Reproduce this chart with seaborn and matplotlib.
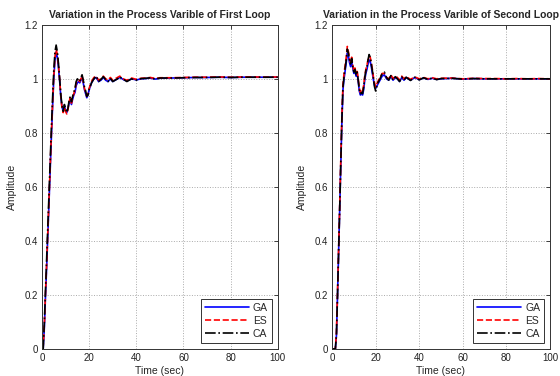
import numpy as np
import pandas as pd
import matplotlib
matplotlib.use("Agg")
import matplotlib.pyplot as plt
import seaborn as sns

# time grid (sec)
time = [0, 0.5, 1, 1.5, 2, 2.5, 3, 3.5, 4, 4.5, 5, 5.5, 6, 6.5, 7, 7.5, 8, 8.5, 9, 9.5,
        10, 10.5, 11, 11.5, 12, 12.5, 13, 13.5, 14, 14.5, 15, 15.5, 16, 16.5, 17, 17.5,
        18, 18.5, 19, 19.5, 20,
        21, 22, 23, 24, 25, 26, 27, 28, 29, 30, 31, 32, 33, 34, 35, 36,
        38, 40, 42, 44, 46, 48, 50,
        55, 60, 65, 70, 75, 80, 85, 90, 95, 100]

# first loop
loop1_ga = [0, 0.0, 0.08, 0.2, 0.31, 0.43, 0.55, 0.67, 0.79, 0.9, 1.0, 1.07, 1.10, 1.08, 1.04, 0.99,
            0.93, 0.895, 0.88, 0.9, 0.885, 0.875, 0.89, 0.91, 0.92, 0.905, 0.925, 0.94, 0.95, 0.975,
            0.985, 0.99, 0.985, 0.995, 1.005, 0.985, 0.96, 0.945, 0.93, 0.94, 0.96,
            0.985, 1.0, 1.005, 0.99, 0.995, 1.005, 0.995, 0.99, 1.0, 0.99, 0.995, 1.0, 1.005, 1.0, 0.995, 0.992,
            1.0, 0.996, 1.0, 1.001, 1.003, 0.999, 1.002,
            1.003, 1.004, 1.005, 1.005, 1.006, 1.005, 1.006, 1.006, 1.006, 1.006]
loop1_es = [0, 0.01, 0.09, 0.21, 0.32, 0.44, 0.56, 0.68, 0.80, 0.91, 1.01, 1.08, 1.11, 1.09, 1.05, 0.995,
            0.935, 0.89, 0.875, 0.895, 0.88, 0.87, 0.885, 0.915, 0.93, 0.91, 0.93, 0.945, 0.96, 0.985,
            0.995, 0.995, 0.99, 1.0, 1.01, 0.99, 0.965, 0.95, 0.935, 0.945, 0.965,
            0.99, 1.005, 1.01, 0.995, 1.0, 1.01, 1.0, 0.995, 1.005, 0.995, 1.0, 1.005, 1.01, 1.002, 0.998, 0.995,
            1.003, 0.998, 1.002, 1.003, 1.005, 1.001, 1.004,
            1.004, 1.005, 1.006, 1.006, 1.007, 1.006, 1.007, 1.007, 1.006, 1.007]
loop1_ca = [0, 0.0, 0.1, 0.22, 0.34, 0.46, 0.58, 0.70, 0.82, 0.93, 1.03, 1.1, 1.125, 1.1, 1.055, 1.0,
            0.94, 0.9, 0.88, 0.905, 0.89, 0.875, 0.89, 0.92, 0.935, 0.915, 0.935, 0.95, 0.965, 0.99,
            1.0, 0.995, 0.99, 1.005, 1.015, 0.995, 0.97, 0.955, 0.935, 0.94, 0.96,
            0.985, 1.0, 1.01, 0.99, 0.998, 1.008, 0.998, 0.99, 1.002, 0.99, 0.995, 1.0, 1.008, 1.0, 0.996, 0.99,
            1.0, 0.995, 1.001, 1.002, 1.004, 0.999, 1.003,
            1.003, 1.004, 1.005, 1.005, 1.006, 1.005, 1.006, 1.006, 1.006, 1.006]

# second loop
loop2_ga = [0, 0, 0, 0, 0.05, 0.2, 0.36, 0.52, 0.68, 0.84, 0.96, 1.0, 1.03, 1.06, 1.095, 1.085,
            1.06, 1.045, 1.065, 1.04, 1.02, 1.03, 1.01, 1.02, 0.99, 0.955, 0.94, 0.945, 0.94, 0.96,
            0.995, 1.02, 1.035, 1.055, 1.07, 1.065, 1.045, 1.02, 0.995, 0.975, 0.965,
            0.98, 0.995, 1.01, 1.015, 1.0, 0.995, 1.01, 0.995, 1.005, 1.0, 0.99, 1.005, 0.995, 1.005, 1.0, 0.995,
            1.005, 0.997, 1.003, 0.998, 1.002, 0.998, 1.0,
            1.002, 0.999, 1.001, 1.0, 1.0, 1.0, 1.0, 1.0, 1.0, 1.0]
loop2_es = [0, 0, 0, 0.0, 0.06, 0.21, 0.37, 0.53, 0.70, 0.86, 0.98, 1.02, 1.05, 1.08, 1.12, 1.10,
            1.075, 1.06, 1.08, 1.05, 1.03, 1.04, 1.02, 1.03, 1.0, 0.965, 0.95, 0.96, 0.955, 0.975,
            1.01, 1.035, 1.05, 1.07, 1.085, 1.08, 1.06, 1.035, 1.005, 0.985, 0.97,
            0.99, 1.005, 1.02, 1.02, 1.005, 1.0, 1.015, 1.0, 1.01, 1.005, 0.995, 1.01, 1.0, 1.008, 1.003, 0.998,
            1.007, 1.0, 1.005, 1.0, 1.004, 1.0, 1.002,
            1.003, 1.0, 1.002, 1.001, 1.001, 1.0, 1.001, 1.0, 1.001, 1.0]
loop2_ca = [0, 0, 0, 0.0, 0.05, 0.2, 0.36, 0.52, 0.69, 0.85, 0.97, 1.01, 1.04, 1.07, 1.11, 1.095,
            1.07, 1.055, 1.075, 1.045, 1.025, 1.035, 1.015, 1.025, 0.995, 0.96, 0.945, 0.95, 0.945, 0.97,
            1.005, 1.03, 1.045, 1.07, 1.09, 1.08, 1.055, 1.03, 1.0, 0.97, 0.955,
            0.985, 1.0, 1.02, 1.025, 1.005, 0.995, 1.012, 0.995, 1.008, 1.0, 0.99, 1.007, 0.995, 1.006, 1.0, 0.994,
            1.006, 0.996, 1.004, 0.998, 1.003, 0.997, 1.001,
            1.002, 0.999, 1.001, 1.0, 1.0, 1.0, 1.0, 1.0, 1.0, 1.0]

titles = ["Variation in the Process Varible of First Loop",
          "Variation in the Process Varible of Second Loop"]
methods = ["GA", "ES", "CA"]
xticks = [0, 20, 40, 60, 80, 100]
yticks = [0, 0.2, 0.4, 0.6, 0.8, 1, 1.2]
ytick_labels = ["0", "0.2", "0.4", "0.6", "0.8", "1", "1.2"]

sns.set_style("white")
plt.rcParams['font.family'] = ['Liberation Sans', 'DejaVu Sans']
plt.rcParams['font.size'] = 7

styles = {"GA": ("#0000ff", "-"), "ES": ("#ff0000", "--"), "CA": ("#000000", "-.")}

fig = plt.figure(figsize=(5.6, 3.76), dpi=100)
ax1 = fig.add_axes([0.075, 0.072, 0.421, 0.862])
ax2 = fig.add_axes([0.593, 0.072, 0.389, 0.862])

for ax, title, series in [(ax1, titles[0], [loop1_ga, loop1_es, loop1_ca]),
                          (ax2, titles[1], [loop2_ga, loop2_es, loop2_ca])]:
    for name, vals in zip(methods, series):
        c, ls = styles[name]
        sns.lineplot(x=time, y=vals, ax=ax, color=c, linestyle=ls, linewidth=1.2, label=name)
    ax.set_xlim(0, 100)
    ax.set_ylim(0, 1.2)
    ax.set_xticks(xticks)
    ax.set_xticklabels([str(x) for x in xticks])
    ax.set_yticks(yticks)
    ax.set_yticklabels(ytick_labels)
    ax.grid(True, linestyle=':', color='#aaaaaa', linewidth=0.7)
    ax.tick_params(direction='in', top=True, right=True, length=3, width=0.6,
                   labelsize=7, colors='#222222', pad=3)
    for sp in ax.spines.values():
        sp.set_color('#333333')
        sp.set_linewidth(0.7)
    ax.set_title(title, fontsize=7.5, fontweight='bold', pad=5)
    ax.set_xlabel("Time (sec)", fontsize=7.5, labelpad=2)
    ax.set_ylabel("Amplitude", fontsize=7.5, labelpad=5)
    leg = ax.legend(loc='lower right', fontsize=7.5, handlelength=4.2, handletextpad=0.4,
                    borderpad=0.35, labelspacing=0.3, fancybox=False, framealpha=1,
                    borderaxespad=0.6)
    leg.get_frame().set_edgecolor('#333333')
    leg.get_frame().set_linewidth(0.7)

fig.savefig("out.png", dpi=100, facecolor='white')
